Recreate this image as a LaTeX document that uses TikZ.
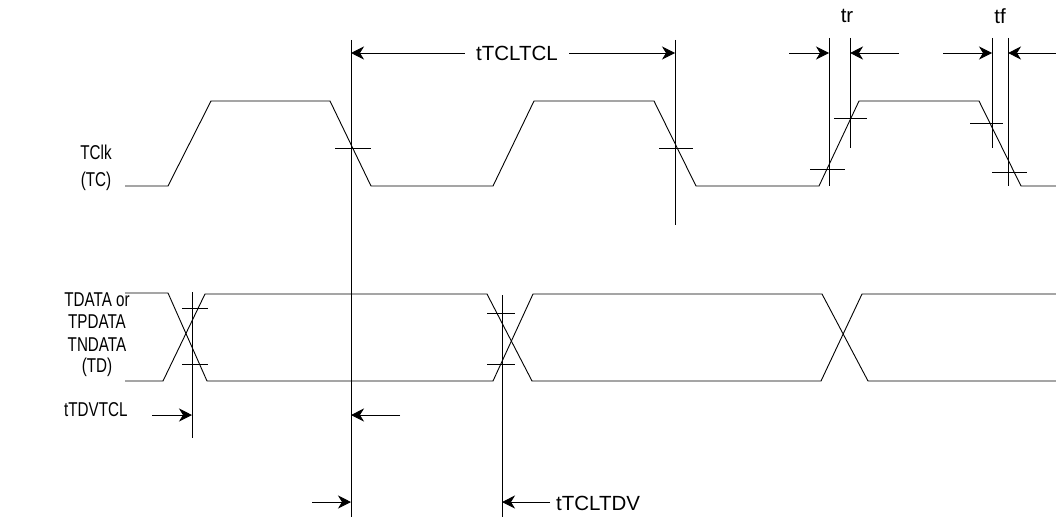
\documentclass[tikz,border=0pt]{standalone}
\usepackage{fontspec}
\setmainfont{Liberation Sans}
\newfontfamily\narrowsans[FakeStretch=0.76]{Liberation Sans}
\usetikzlibrary{arrows.meta}
\begin{document}
\begin{tikzpicture}[x=1pt,y=-1pt,
  wave/.style={line width=0.9pt},
  guide/.style={line width=0.9pt},
  tick/.style={line width=0.9pt},
  dimarrow/.style={line width=0.9pt,-{Stealth[length=13pt,width=13pt,inset=4pt]}},
  lbl/.style={inner sep=0pt,font=\narrowsans\fontsize{20}{22}\selectfont},
  biglbl/.style={inner sep=0pt,font=\fontsize{20.5}{23}\selectfont},
  clbl/.style={lbl,anchor=center},
  llbl/.style={lbl,anchor=west}]
\useasboundingbox (0,0) rectangle (1056,519);
% clock waveform
\draw[wave] (125,186)--(168,186)--(211,101)--(330,101)--(371,186)--(493,186)--(534,101)--(654,101)--(696,186)--(819,186)--(859,101)--(979,101)--(1021,186)--(1056,186);
% data waveforms
\draw[wave] (125,293)--(168,293)--(207,381)--(493,381)--(533,294)--(822,294)--(868,381)--(1056,381);
\draw[wave] (125,381)--(163,381)--(205,294)--(487,294)--(532,381)--(821,381)--(862,294)--(1056,294);
% guide lines
\coordinate (g1t) at (351,40); \coordinate (g1b) at (351,517);
\coordinate (g2t) at (675,40); \coordinate (g2b) at (675,225);
\coordinate (g3t) at (829,38); \coordinate (g3b) at (829,186);
\coordinate (g4t) at (850,38); \coordinate (g4b) at (850,148);
\coordinate (g5t) at (992,38); \coordinate (g5b) at (992,148);
\coordinate (g6t) at (1008,38); \coordinate (g6b) at (1008,186);
\coordinate (g7t) at (192,292); \coordinate (g7b) at (192,438);
\coordinate (g8t) at (502,295); \coordinate (g8b) at (502,517);
\foreach \g in {1,...,8} \draw[guide] (g\g t)--(g\g b);
% ticks
\draw[tick] (335,148)--(371,148);
\draw[tick] (659,148)--(693,148);
\draw[tick] (810,169)--(845,169);
\draw[tick] (834,118)--(867,118);
\draw[tick] (970,123)--(1003,123);
\draw[tick] (992,172)--(1027,172);
\draw[tick] (182,308)--(208,308);
\draw[tick] (182,364)--(208,364);
\draw[tick] (487,313)--(515,313);
\draw[tick] (487,364)--(515,364);
% tTCLTCL
\node[biglbl,inner xsep=11pt] (tcl) at (517,53) {tTCLTCL};
\coordinate (a1) at (351,53); \coordinate (a2) at (675,53);
\draw[dimarrow] (tcl.west) -- (a1);
\draw[dimarrow] (tcl.east) -- (a2);
% tr
\node[biglbl] (tr) at (847,16) {tr};
\coordinate (tr1) at (789,53); \coordinate (tr2) at (829,53);
\coordinate (tr3) at (899,53); \coordinate (tr4) at (850,53);
\draw[dimarrow] (tr1)--(tr2);
\draw[dimarrow] (tr3)--(tr4);
% tf
\node[biglbl] (tf) at (1000,16) {tf};
\coordinate (tf1) at (943,53); \coordinate (tf2) at (992,53);
\coordinate (tf3) at (1056,53); \coordinate (tf4) at (1008,53);
\draw[dimarrow] (tf1)--(tf2);
\draw[dimarrow] (tf3)--(tf4);
% tTDVTCL
\coordinate (d1) at (152,415); \coordinate (d2) at (192,415);
\coordinate (d3) at (400,415); \coordinate (d4) at (351,415);
\draw[dimarrow] (d1)--(d2);
\draw[dimarrow] (d3)--(d4);
% tTCLTDV
\coordinate (e1) at (312,502); \coordinate (e2) at (351,502);
\coordinate (e3) at (550,502); \coordinate (e4) at (502,502);
\draw[dimarrow] (e1)--(e2);
\draw[dimarrow] (e3)--(e4);
% labels
\node[clbl] (tclk) at (96,152) {TClk};
\node[clbl] (tc) at (96,181) {(TC)};
\node[clbl] (td1) at (97,300) {TDATA or};
\node[clbl] (td2) at (97,322) {TPDATA};
\node[clbl] (td3) at (97,345) {TNDATA};
\node[clbl] (td4) at (97,367) {(TD)};
\node[llbl] (tdv) at (64,410) {tTDVTCL};
\node[biglbl,anchor=west] (tcltdv) at (556,503) {tTCLTDV};
\end{tikzpicture}
\end{document}
